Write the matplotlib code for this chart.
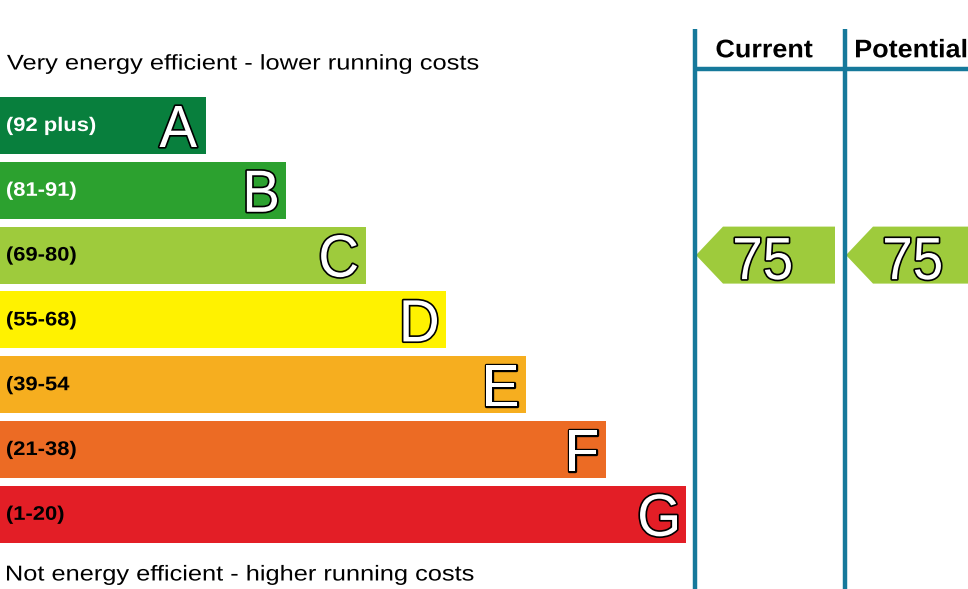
import matplotlib

matplotlib.use("Agg")

import matplotlib.pyplot as plt
from matplotlib.font_manager import FontProperties
from matplotlib.patches import PathPatch, Polygon
from matplotlib.textpath import TextPath
from matplotlib.transforms import Affine2D

# --- data ---
bands = ["A", "B", "C", "D", "E", "F", "G"]
ranges = ["(92 plus)", "(81-91)", "(69-80)", "(55-68)", "(39-54", "(21-38)", "(1-20)"]
band_min = [92, 81, 69, 55, 39, 21, 1]
bar_length = [206, 286, 366, 446, 526, 606, 686]
current_rating = 75
potential_rating = 75

# --- style ---
band_colors = ["#087f3d", "#2ca12f", "#9ecb3c", "#fff200", "#f6ae1f", "#ec6b24", "#e31e26"]
label_colors = ["white", "white", "black", "black", "black", "black", "black"]
line_color = "#16799b"
FONT = "Liberation Sans"

ROW0 = 125.5
ROW_STEP = 64.8
BAR_H = 57

_cap = TextPath((0, 0), "H", size=100, prop=FontProperties(family=FONT)).get_extents()
CAP_RATIO = _cap.height / 100.0


def band_index(rating):
    for i, lo in enumerate(band_min):
        if rating >= lo:
            return i
    return len(band_min) - 1


def draw_text(ax, x, baseline, s, cap_px, sx=1.0, weight="normal", ha="left",
              color="black", outline=None, lw=2.4):
    """Draw text as a path so it can be stretched horizontally (axes units = pixels)."""
    fp = FontProperties(family=FONT, weight=weight)
    tp = TextPath((0, 0), s, size=cap_px / CAP_RATIO, prop=fp)
    ext = tp.get_extents()
    if ha == "left":
        x0 = ext.x0
    elif ha == "right":
        x0 = ext.x1
    else:
        x0 = (ext.x0 + ext.x1) / 2
    trans = Affine2D().translate(-x0, 0).scale(sx, -1).translate(x, baseline) + ax.transData
    if outline:
        # stroke first, then fill on top so the outline sits outside the glyph
        ax.add_patch(PathPatch(tp, transform=trans, facecolor=outline, edgecolor=outline,
                               lw=lw, joinstyle="round"))
    ax.add_patch(PathPatch(tp, transform=trans, facecolor=color, edgecolor="none", lw=0))


fig = plt.figure(figsize=(9.68, 5.89), dpi=100)
ax = fig.add_axes([0, 0, 1, 1])
ax.set_xlim(0, 968)
ax.set_ylim(589, 0)
ax.axis("off")

rows = [ROW0 + ROW_STEP * i for i in range(len(bands))]
ax.barh(rows, bar_length, height=BAR_H, left=0, color=band_colors, edgecolor="none")

for y, length, band, rng, lc in zip(rows, bar_length, bands, ranges, label_colors):
    draw_text(ax, 7, y + 5.5, rng, 13.5, sx=1.12, weight="bold", color=lc)
    draw_text(ax, length - 9, y + 21.5, band, 41, sx=0.95, ha="right",
              color="white", outline="black")

draw_text(ax, 7, 69.5, "Very energy efficient - lower running costs", 14.6, sx=1.2)
draw_text(ax, 7, 580.5, "Not energy efficient - higher running costs", 14.8, sx=1.18)

# column frame
for x in (695, 844.5):
    ax.plot([x, x], [29, 589], color=line_color, lw=3.2, solid_capstyle="butt")
ax.plot([695, 968], [69, 69], color=line_color, lw=3.2, solid_capstyle="butt")
draw_text(ax, 764.5, 57.3, "Current", 17.5, sx=1.06, weight="bold", ha="center")
draw_text(ax, 856, 57.3, "Potential", 17.5, sx=1.06, weight="bold")

# rating arrows
for tip_x, right_x, rating in ((696, 835, current_rating), (846, 990, potential_rating)):
    idx = band_index(rating)
    y = rows[idx]
    half = BAR_H / 2
    body_x = tip_x + 27
    ax.add_patch(Polygon([(tip_x, y), (body_x, y - half), (right_x, y - half),
                          (right_x, y + half), (body_x, y + half)], closed=True,
                         facecolor=band_colors[idx], edgecolor="none"))
    draw_text(ax, tip_x + 67, y + 24, str(rating), 41, sx=0.92, ha="center",
              color="white", outline="black")

fig.savefig("out.png", dpi=100)
plt.close(fig)
